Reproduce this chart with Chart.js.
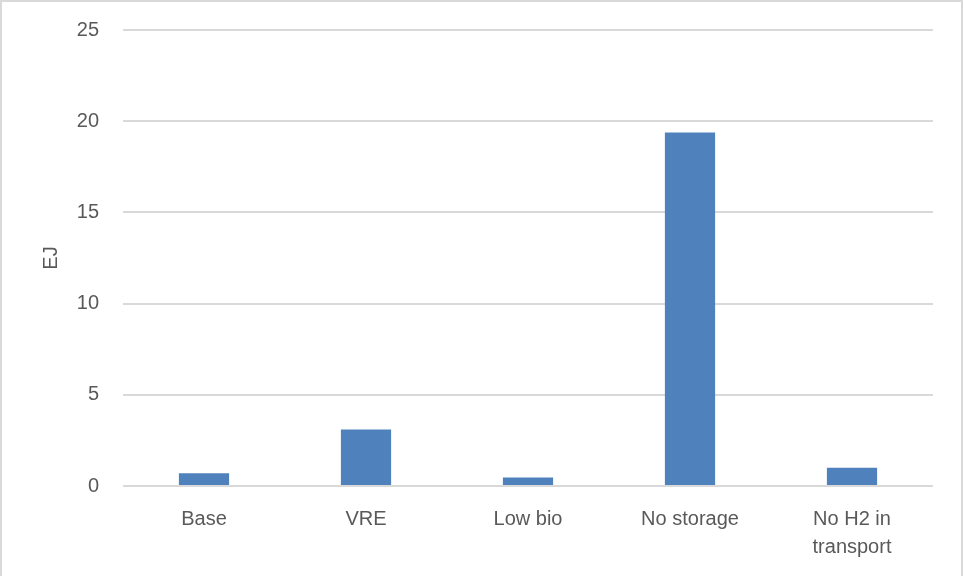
<!DOCTYPE html>
<html>
<head>
<meta charset="utf-8">
<script src="https://cdn.jsdelivr.net/npm/chart.js@4/dist/chart.umd.min.js"></script>
<style>
  html, body { margin: 0; padding: 0; background: #ffffff; }
  #wrap { width: 963px; height: 576px; }
</style>
</head>
<body>
<div id="wrap"><canvas id="c" width="963" height="576"></canvas></div>
<script>
// Scenario names and their values (EJ)
const categories = ['Base', 'VRE', 'Low bio', 'No storage', ['No H2 in', 'transport']];
const values = [0.70, 3.1, 0.47, 19.38, 1.0];
const yTickLabels = ['0', '5', '10', '15', '20', '25'];

const textColor = '#595959';
const gridColor = '#d9d9d9';
const fontFamily = '"Liberation Sans", Arial, sans-serif';

// Thin frame around the whole chart
const framePlugin = {
  id: 'frame',
  afterDraw(chart) {
    const ctx = chart.ctx;
    ctx.save();
    ctx.strokeStyle = '#d9d9d9';
    ctx.lineWidth = 2;
    ctx.beginPath();
    ctx.moveTo(1, chart.height + 2);
    ctx.lineTo(1, 1);
    ctx.lineTo(chart.width - 1, 1);
    ctx.lineTo(chart.width - 1, chart.height + 2);
    ctx.stroke();
    ctx.restore();
  }
};

new Chart(document.getElementById('c'), {
  type: 'bar',
  data: {
    labels: categories,
    datasets: [{
      data: values,
      backgroundColor: '#4f81bd',
      borderWidth: 0,
      barPercentage: 0.31,
      categoryPercentage: 1.0
    }]
  },
  options: {
    responsive: false,
    animation: false,
    layout: { padding: { top: 30, right: 30, left: 0, bottom: 0 } },
    plugins: {
      legend: { display: false },
      tooltip: { enabled: false }
    },
    scales: {
      x: {
        grid: { display: false, drawTicks: false },
        border: { display: false },
        ticks: {
          color: textColor,
          font: { family: fontFamily, size: 20, lineHeight: 1.4 },
          padding: 19,
          maxRotation: 0,
          autoSkip: false
        },
        afterFit(scale) {
          scale.height = 90;
          scale.paddingLeft = 0;
          scale.paddingRight = 0;
        }
      },
      y: {
        min: 0,
        max: 25,
        grid: { color: gridColor, lineWidth: 2, drawTicks: false },
        border: { display: false },
        ticks: {
          stepSize: 5,
          color: textColor,
          font: { family: fontFamily, size: 20 },
          padding: 24,
          callback: (v) => yTickLabels[Math.round(v / 5)]
        },
        title: {
          display: true,
          text: 'EJ',
          color: textColor,
          font: { family: fontFamily, size: 20 },
          padding: { top: 39, bottom: 0 }
        },
        afterFit(scale) {
          scale.width = 123;
          scale.paddingTop = 0;
          scale.paddingBottom = 0;
        }
      }
    }
  },
  plugins: [framePlugin]
});
</script>
</body>
</html>
